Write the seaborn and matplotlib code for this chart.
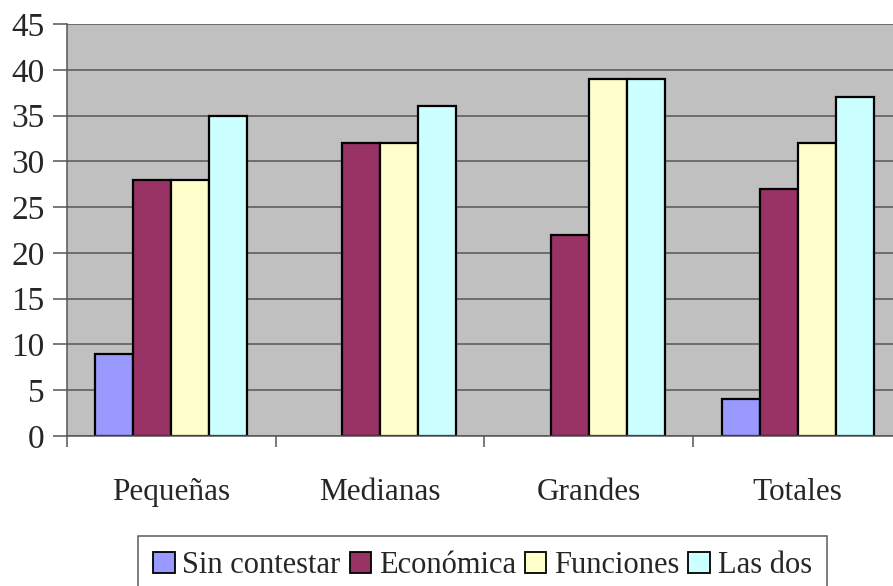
import numpy as np
import pandas as pd
import matplotlib
matplotlib.use("Agg")
import matplotlib.pyplot as plt
from matplotlib.patches import Patch
import seaborn as sns

categorias = ["Pequeñas", "Medianas", "Grandes", "Totales"]
series = ["Sin contestar", "Económica", "Funciones", "Las dos"]
sin_contestar = [9, 0, 0, 4]
economica = [28, 32, 22, 27]
funciones = [28, 32, 39, 32]
las_dos = [35, 36, 39, 37]
colores = ["#9999FF", "#993366", "#FFFFCC", "#CCFFFF"]
y_ticks = [0, 5, 10, 15, 20, 25, 30, 35, 40, 45]

valores = [sin_contestar, economica, funciones, las_dos]
df = pd.DataFrame(
    [(c, s, v[i]) for s, v in zip(series, valores) for i, c in enumerate(categorias)],
    columns=["categoria", "serie", "valor"],
)

sns.set_theme(style="white")
plt.rcParams["font.family"] = ["Liberation Serif", "DejaVu Serif"]

W, H = 893, 586
fig = plt.figure(figsize=(W / 100, H / 100), dpi=100)
ax = fig.add_axes([67 / W, 1 - 436 / H, (902 - 67) / W, (436 - 24) / H])
ax.set_facecolor("#C0C0C0")

sns.barplot(
    data=df, x="categoria", y="valor", hue="serie",
    order=categorias, hue_order=series, palette=colores,
    width=0.727, edgecolor="black", linewidth=1.6,
    saturation=1, ax=ax, legend=False,
)
# empty groups are left without a bar outline
for p in ax.patches:
    if p.get_height() == 0:
        p.set_visible(False)

ax.set_xlim(-0.5, len(categorias) - 0.5)
ax.set_ylim(0, 45)
ax.set_yticks(y_ticks)
ax.yaxis.grid(True, color="#555555", linewidth=1.1)
ax.set_axisbelow(True)
ax.set_xlabel("")
ax.set_ylabel("")

ax.tick_params(axis="y", length=10, width=1.1, color="#555555", pad=6,
               labelsize=24, left=True)
ax.set_xticks(range(len(categorias)))
ax.set_xticklabels(categorias)
ax.tick_params(axis="x", which="major", length=0, pad=30, labelsize=22.5)
ax.set_xticks(np.arange(-0.5, len(categorias), 1.0), minor=True)
ax.tick_params(axis="x", which="minor", length=8, width=1.1, color="#555555",
               bottom=True, direction="out")

for side in ["top", "right"]:
    ax.spines[side].set_visible(False)
for side in ["left", "bottom"]:
    ax.spines[side].set_color("#555555")
    ax.spines[side].set_linewidth(1.1)

handles = [Patch(facecolor=c, edgecolor="black", linewidth=1.3) for c in colores]
leg = fig.legend(
    handles, series, loc="upper left",
    bbox_to_anchor=(138 / W, 1 - 536 / H), borderaxespad=0,
    ncol=4, fontsize=22, frameon=True, fancybox=False,
    handlelength=0.7, handleheight=0.7, handletextpad=0.25,
    columnspacing=0.3, borderpad=0.5,
)
leg.get_frame().set_edgecolor("#333333")
leg.get_frame().set_linewidth(1.1)

fig.savefig("out.png", dpi=100)
